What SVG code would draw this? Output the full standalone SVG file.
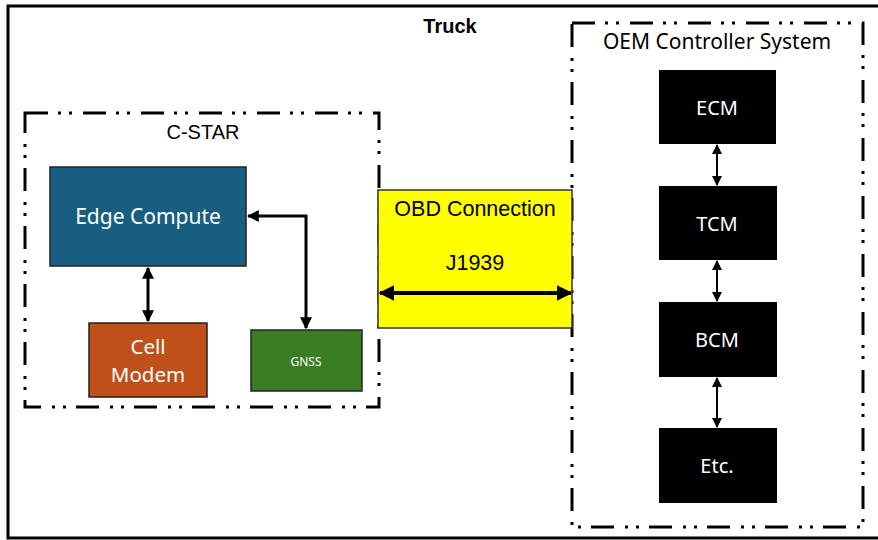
<svg xmlns="http://www.w3.org/2000/svg" width="878" height="540" viewBox="0 0 878 540">
<defs>
<style>
.frame{fill:none;stroke:#000;stroke-width:3}
.grp{fill:none;stroke:#000;stroke-width:3;stroke-dasharray:23 10 3 8 3 11}
.lbl{font-family:"Liberation Sans",Arial,sans-serif;fill:#000}
.wt{font-family:"Noto Sans","Open Sans",sans-serif;fill:#fff;text-anchor:middle}
.con{fill:none;stroke:#000;stroke-width:3}
.thin{fill:none;stroke:#000;stroke-width:2}
.thick{fill:none;stroke:#000;stroke-width:4}
.box{stroke:#222;stroke-width:1.5}
</style>
<marker id="ah" viewBox="0 0 10 10" refX="9" refY="5" markerWidth="4" markerHeight="4" orient="auto-start-reverse" markerUnits="strokeWidth">
<path d="M0,0 L10,5 L0,10 z" fill="#000"/>
</marker>
<marker id="ahs" viewBox="0 0 10 10" refX="9" refY="5" markerWidth="5" markerHeight="5" orient="auto-start-reverse" markerUnits="strokeWidth">
<path d="M0,0 L10,5 L0,10 z" fill="#000"/>
</marker>
</defs>
<rect width="878" height="540" fill="#fff"/>
<g id="truck">
<rect class="frame" x="8" y="6" width="880" height="532"/>
<text class="lbl" x="450" y="33" font-size="20" font-weight="bold" text-anchor="middle">Truck</text>
</g>
<g id="cstar">
<rect class="grp" x="25" y="113" width="354" height="294"/>
<text class="lbl" x="203" y="139" font-size="20" text-anchor="middle">C-STAR</text>
</g>
<g id="oem">
<rect class="grp" x="572" y="23" width="291" height="504"/>
<text class="wt" x="717" y="49" font-size="21" style="fill:#000">OEM Controller System</text>
</g>
<g id="obd">
<rect x="378" y="190" width="194" height="138" fill="#ffff00" stroke="#333" stroke-width="1.5"/>
<text class="lbl" x="475" y="216" font-size="21.5" text-anchor="middle">OBD Connection</text>
<text class="lbl" x="475" y="270" font-size="21.5" text-anchor="middle">J1939</text>
</g>
<g id="edge">
<rect class="box" x="50" y="167" width="196" height="99" fill="#175e80"/>
<text class="wt" x="148" y="224" font-size="21">Edge Compute</text>
</g>
<g id="cell">
<rect class="box" x="89" y="323" width="118" height="74" fill="#c0501a"/>
<text class="wt" x="148" y="354" font-size="20.5">Cell</text>
<text class="wt" x="148" y="382" font-size="20.5">Modem</text>
</g>
<g id="gnss">
<rect class="box" x="251" y="330" width="111" height="61" fill="#3a7d22"/>
<text class="wt" x="306" y="366" font-size="12">GNSS</text>
</g>
<g id="ecm">
<rect x="659" y="70" width="117" height="74" fill="#000"/>
<text class="wt" x="717" y="115" font-size="20">ECM</text>
</g>
<g id="tcm">
<rect x="659" y="186" width="118" height="74" fill="#000"/>
<text class="wt" x="717" y="231" font-size="20">TCM</text>
</g>
<g id="bcm">
<rect x="659" y="302" width="118" height="75" fill="#000"/>
<text class="wt" x="717" y="347" font-size="20">BCM</text>
</g>
<g id="etc">
<rect x="659" y="428" width="118" height="75" fill="#000"/>
<text class="wt" x="717" y="473" font-size="20">Etc.</text>
</g>
<g id="connectors">
<line class="con" x1="148" y1="268" x2="148" y2="321" marker-start="url(#ah)" marker-end="url(#ah)"/>
<polyline class="con" points="248,216 306,216 306,328" marker-start="url(#ah)" marker-end="url(#ah)"/>
<line class="thick" x1="380" y1="293" x2="571" y2="293" marker-start="url(#ah)" marker-end="url(#ah)"/>
<line class="thin" x1="717" y1="145" x2="717" y2="185" marker-start="url(#ahs)" marker-end="url(#ahs)"/>
<line class="thin" x1="717" y1="261" x2="717" y2="301" marker-start="url(#ahs)" marker-end="url(#ahs)"/>
<line class="thin" x1="717" y1="378" x2="717" y2="427" marker-start="url(#ahs)" marker-end="url(#ahs)"/>
</g>
</svg>
